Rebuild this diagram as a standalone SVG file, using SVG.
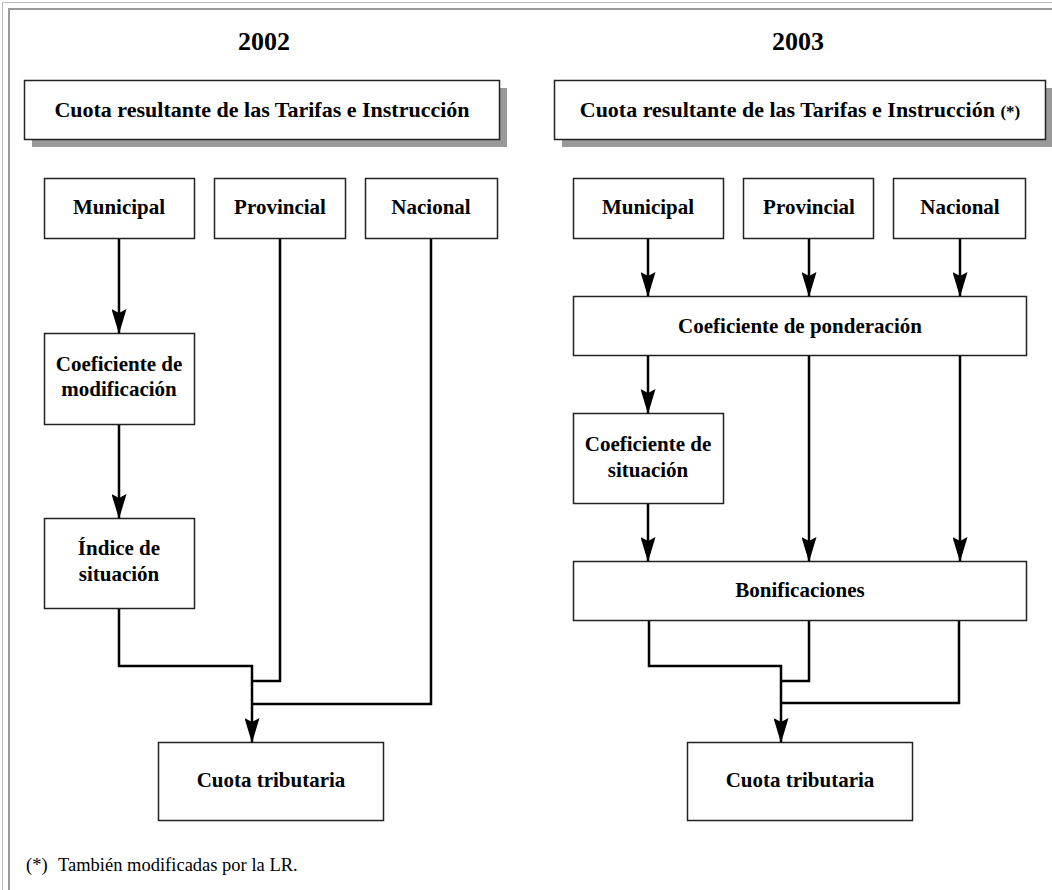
<svg xmlns="http://www.w3.org/2000/svg" width="1052" height="890" viewBox="0 0 1052 890">
<style>
.bx{fill:#fff;stroke:#222;stroke-width:1.5}
.sh{fill:#999}
.t{font-family:"Liberation Serif","Times New Roman",serif;font-weight:bold;fill:#000;text-anchor:middle}
.n{font-size:21px}
.h{font-size:22px}
.y{font-size:26px}
.c{fill:none;stroke:#000;stroke-width:2.5}
.f{font-family:"Liberation Serif","Times New Roman",serif;font-size:18.5px;fill:#000}
</style>
<defs>
<marker id="a" markerUnits="userSpaceOnUse" markerWidth="26" markerHeight="15" refX="24" refY="7.5" orient="auto" viewBox="0 0 26 15">
<path d="M0,0 L25,7.5 L0,15 L4,7.5 Z" fill="#000"/>
</marker>
</defs>
<rect width="1052" height="890" fill="#fff"/>
<g id="frame" fill="none">
<path d="M2.5,890 V2.5 H1052" stroke="#bbb" stroke-width="1"/>
<path d="M9,890 V9 H1052" stroke="#999" stroke-width="2"/>
</g>
<g id="year-2002"><text class="t y" x="264" y="50">2002</text></g>
<g id="year-2003"><text class="t y" x="798" y="50">2003</text></g>
<g id="header-2002">
<rect class="sh" x="32" y="88" width="475" height="59"/>
<rect class="bx" x="24.5" y="80.5" width="475" height="59"/>
<text class="t h" x="262" y="117">Cuota resultante de las Tarifas e Instrucción</text>
</g>
<g id="header-2003">
<rect class="sh" x="562" y="88" width="491" height="59"/>
<rect class="bx" x="554.5" y="80.5" width="491" height="59"/>
<text class="t h" x="800" y="117">Cuota resultante de las Tarifas e Instrucción <tspan font-size="17px">(*)</tspan></text>
</g>
<g id="l-municipal"><rect class="bx" x="44.5" y="178.5" width="150" height="60"/><text class="t n" x="119" y="214">Municipal</text></g>
<g id="l-provincial"><rect class="bx" x="214.5" y="178.5" width="131" height="60"/><text class="t n" x="280" y="214">Provincial</text></g>
<g id="l-nacional"><rect class="bx" x="365.5" y="178.5" width="132" height="60"/><text class="t n" x="431" y="214">Nacional</text></g>
<g id="l-coef-mod"><rect class="bx" x="44.5" y="333.5" width="150" height="91"/><text class="t n" x="119" y="371">Coeficiente de</text><text class="t n" x="119" y="396">modificación</text></g>
<g id="l-indice"><rect class="bx" x="44.5" y="518.5" width="150" height="90"/><text class="t n" x="119" y="555">Índice de</text><text class="t n" x="119" y="581">situación</text></g>
<g id="l-cuota"><rect class="bx" x="158.5" y="742.5" width="225" height="78"/><text class="t n" x="271" y="787">Cuota tributaria</text></g>
<g id="r-municipal"><rect class="bx" x="573.5" y="178.5" width="150" height="60"/><text class="t n" x="648" y="214">Municipal</text></g>
<g id="r-provincial"><rect class="bx" x="743.5" y="178.5" width="130" height="60"/><text class="t n" x="809" y="214">Provincial</text></g>
<g id="r-nacional"><rect class="bx" x="893.5" y="178.5" width="132" height="60"/><text class="t n" x="960" y="214">Nacional</text></g>
<g id="r-ponderacion"><rect class="bx" x="573.5" y="296.5" width="453" height="59"/><text class="t n" x="800" y="333">Coeficiente de ponderación</text></g>
<g id="r-coef-sit"><rect class="bx" x="573.5" y="413.5" width="150" height="90"/><text class="t n" x="648" y="451">Coeficiente de</text><text class="t n" x="648" y="477">situación</text></g>
<g id="r-bonif"><rect class="bx" x="573.5" y="561.5" width="453" height="59"/><text class="t n" x="800" y="597">Bonificaciones</text></g>
<g id="r-cuota"><rect class="bx" x="687.5" y="742.5" width="225" height="78"/><text class="t n" x="800" y="787">Cuota tributaria</text></g>
<g id="connectors">
<path class="c" d="M119,239 V333" marker-end="url(#a)"/>
<path class="c" d="M119,425 V518" marker-end="url(#a)"/>
<path class="c" d="M119,609 V666 H252 V742" marker-end="url(#a)"/>
<path class="c" d="M280,239 V681 H252"/>
<path class="c" d="M431,239 V704 H252"/>
<path class="c" d="M648,239 V296" marker-end="url(#a)"/>
<path class="c" d="M809,239 V296" marker-end="url(#a)"/>
<path class="c" d="M960,239 V296" marker-end="url(#a)"/>
<path class="c" d="M648,356 V413" marker-end="url(#a)"/>
<path class="c" d="M648,504 V561" marker-end="url(#a)"/>
<path class="c" d="M809,356 V561" marker-end="url(#a)"/>
<path class="c" d="M960,356 V561" marker-end="url(#a)"/>
<path class="c" d="M649,621 V666 H781 V742" marker-end="url(#a)"/>
<path class="c" d="M809,621 V681 H781"/>
<path class="c" d="M959,621 V703 H781"/>
</g>
<g id="footnote"><text class="f" x="26" y="871">(*)<tspan x="58">También modificadas por la LR.</tspan></text></g>
</svg>
